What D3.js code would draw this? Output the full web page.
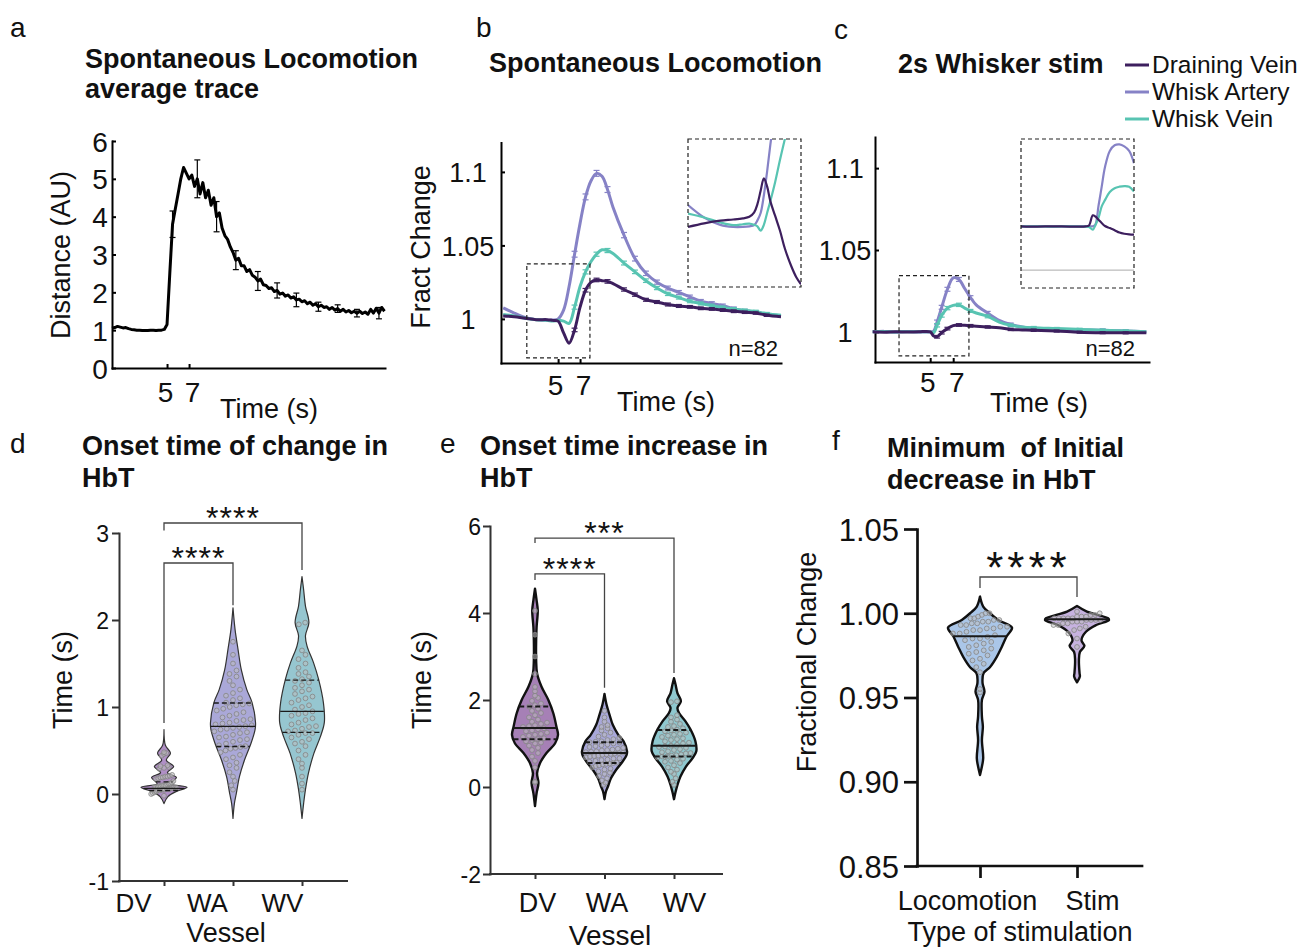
<!DOCTYPE html>
<html>
<head>
<meta charset="utf-8">
<script src="https://cdn.jsdelivr.net/npm/d3@7/dist/d3.min.js"></script>
<style>
html,body{margin:0;padding:0;background:#fff;}
svg{display:block;}
text{white-space:pre;}
</style>
</head>
<body>
<svg id="chart" width="1301" height="951"></svg>
<script>
// ================= DATA =================
// ---- Panel a: spontaneous locomotion average trace ----
const aStep = 0.25; // sampling interval (s)
const aValues = [
  1.05,1.07,1.1,1.08,1.06,1.07,1.04,1.02,1.01,1.0,1.0,0.99,0.99,0.99,1.0,1.0,0.99,1.0,1.0,1.02,
  1.15,2.5,3.8,4.2,4.6,5.0,5.3,5.15,5.0,5.1,4.8,5.0,4.6,4.9,4.5,4.7,4.3,4.5,4.0,4.1,
  3.7,3.5,3.4,3.2,3.05,2.85,2.9,2.7,2.7,2.55,2.6,2.45,2.4,2.3,2.35,2.2,2.18,2.1,2.12,2.02,
  2.05,1.95,1.98,1.9,1.93,1.85,1.88,1.8,1.82,1.75,1.78,1.7,1.74,1.66,1.7,1.62,1.66,1.6,1.62,1.55,
  1.6,1.53,1.57,1.5,1.55,1.48,1.52,1.46,1.5,1.45,1.5,1.44,1.48,1.42,1.55,1.45,1.58,1.45,1.6,1.5
];
const aErrTimes = [5.5,7.75,9.5,11.25,13.25,15.0,16.75,18.75,20.5,22.25,24.25];
const aErr = [0.35,0.5,0.4,0.25,0.25,0.2,0.18,0.12,0.1,0.1,0.15];
const aXTicks = [5,7];
const aYTicks = [0,1,2,3,4,5,6];

// ---- Panel b: spontaneous locomotion HbT ----
const bTime = [0,1,2,3,4,4.5,5,5.5,6,6.5,7,7.5,8,8.5,9,9.5,10,11,12,13,14,15,16,17,18,19,20,21,22,23,24,25.3];
const bArtery = [1.0075,1.004,1.001,0.9995,0.999,0.9992,1.0,1.006,1.022,1.044,1.065,1.083,1.094,1.099,1.097,1.088,1.076,1.057,1.041,1.031,1.025,1.021,1.018,1.015,1.012,1.0105,1.009,1.007,1.0055,1.0045,1.003,1.002];
const bVein   = [1.003,1.002,1.0005,0.9995,0.999,0.9985,0.999,0.9985,0.997,1.008,1.022,1.032,1.039,1.044,1.047,1.0465,1.0445,1.038,1.032,1.026,1.021,1.017,1.0145,1.012,1.0105,1.009,1.0078,1.0068,1.0058,1.005,1.0035,1.0025];
const bDrain  = [1.002,1.0015,1.0005,0.9995,0.9995,0.999,0.9985,0.9905,0.9835,0.9925,1.008,1.0195,1.025,1.0265,1.026,1.0255,1.024,1.02,1.0165,1.013,1.0115,1.0098,1.0088,1.0082,1.0072,1.0068,1.006,1.0052,1.0045,1.004,1.0025,1.0015];
const bErrTimes = [6.5,7.5,8.5,9.5,11,12,13,14,15,16,17,18,19,20,21,22,23,24];
const bSemArtery = [0.002,0.002,0.002,0.002,0.0018,0.0016,0.0015,0.0014,0.0013,0.0013,0.0012,0.0012,0.0012,0.0011,0.0011,0.001,0.001,0.001];
const bSemVein   = [0.0014,0.0014,0.0014,0.0014,0.0013,0.0012,0.0012,0.0011,0.0011,0.001,0.001,0.001,0.001,0.001,0.0009,0.0009,0.0009,0.0009];
const bSemDrain  = [0.0012,0.0012,0.0012,0.0012,0.0011,0.0011,0.001,0.001,0.001,0.001,0.0009,0.0009,0.0009,0.0009,0.0009,0.0008,0.0008,0.0008];
const bZoomBox = [2.15, 7.9, 0.9735, 1.0374]; // t0,t1,v0,v1
const bInsetTime   = [2,3,4,4.8,5.4,5.8,6.1,6.3,6.5,6.7,6.9,7.1,7.4,7.7,8.0,8.4,8.7,9.0];
const bInsetArtery = [1.0077,1.0035,1.001,1.0003,1.0003,1.0005,1.0009,1.0025,1.005,1.011,1.019,1.028,1.04,1.05,1.06,1.07,1.08,1.09];
const bInsetVein   = [1.0048,1.0035,1.0018,1.0009,1.0012,1.0014,1.001,1.0005,0.999,1.001,1.005,1.009,1.0155,1.023,1.03,1.04,1.05,1.06];
const bInsetDrain  = [1.0003,1.0015,1.0024,1.0028,1.0032,1.0037,1.0052,1.008,1.0125,1.0167,1.014,1.009,1.004,0.999,0.993,0.987,0.9834,0.9809];

// ---- Panel c: 2 s whisker stimulation ----
const cTime = [0,1,2,3,4,5,5.3,5.6,6,6.5,7,7.5,8,8.5,9,10,11,12,13,14,16,18,20,22,23.8];
const cArtery = [1.0,1.0003,0.9998,1.0002,0.9999,1.0,1.0005,1.006,1.015,1.026,1.033,1.032,1.0265,1.021,1.0165,1.0115,1.007,1.0045,1.003,1.002,1.0015,1.0012,1.001,1.0005,1.0];
const cVein   = [1.0,1.0002,0.9999,1.0001,1.0,1.0,0.9995,1.004,1.010,1.0145,1.0162,1.0165,1.0145,1.0128,1.0115,1.0095,1.006,1.004,1.003,1.0025,1.002,1.0015,1.001,1.0005,1.0];
const cDrain  = [1.0,0.9998,1.0,0.9999,1.0,1.0,0.9975,0.997,0.9995,1.002,1.0038,1.0042,1.004,1.0037,1.0035,1.003,1.0025,1.0015,1.0012,1.001,1.0005,0.9998,0.9995,0.9994,0.9995];
const cErrTimes = [5.6,6,6.5,7.5,8.5,10,12,14,16,18,20,22];
const cSemArtery = [0.0012,0.0012,0.0012,0.0012,0.0011,0.001,0.0009,0.0008,0.0008,0.0008,0.0008,0.0008];
const cSemVein   = [0.001,0.001,0.001,0.001,0.0009,0.0009,0.0008,0.0008,0.0007,0.0007,0.0007,0.0007];
const cSemDrain  = [0.0008,0.0008,0.0008,0.0008,0.0008,0.0007,0.0007,0.0007,0.0006,0.0006,0.0006,0.0006];
const cZoomBox = [2.29, 8.37, 0.9853, 1.0344];
const cInsetTime   = [2,3,4,5,6,6.2,6.45,6.6,6.8,7.0,7.2,7.5,7.8,8.1,8.4,8.7,9.0];
const cInsetDrain  = [1.0007,1.0006,1.0007,1.0006,1.0007,1.0009,1.0044,1.004,1.0029,1.0018,1.0008,1.0001,0.9994,0.9986,0.9982,0.998,0.9979];
const cInsetArtery = [1.0006,1.0007,1.0006,1.0007,1.0007,1.0007,1.0007,1.0012,1.0075,1.014,1.0205,1.026,1.0279,1.0282,1.0275,1.026,1.0219];
const cInsetVein   = [1.0007,1.0007,1.0006,1.0007,1.0006,1.0005,0.9996,1.001,1.0035,1.0074,1.0095,1.0122,1.0135,1.014,1.0142,1.014,1.0124];
const cInsetBase = 0.986;
const insetTimeDomain = [2, 9];
const insetValueDomain = [0.98, 1.03];

const seriesNames  = ["Draining Vein", "Whisk Artery", "Whisk Vein"];
const seriesColors = ["#3d1f5e", "#8682c6", "#58c4b2"];
const fractTicks = [1, 1.05, 1.1];

// ---- Panel d: onset time of change in HbT ----
const vesselCats = ["DV", "WA", "WV"];
const dYTicks = [-1, 0, 1, 2, 3];
const dProfileDV = [[-0.11,0],[-0.03,0.17],[0.027,0.52],[0.077,1.0],[0.12,0.3],[0.19,0.54],[0.246,0.15],[0.315,0.42],[0.39,0.1],[0.47,0.28],[0.56,0.06],[0.74,0]];
const dProfileWA = [[-0.28,0],[-0.11,0.06],[0.0,0.14],[0.2,0.28],[0.39,0.5],[0.58,0.78],[0.74,0.96],[0.82,0.98],[1.05,0.83],[1.2,0.6],[1.43,0.36],[1.66,0.22],[1.89,0.09],[2.14,0]];
const dProfileWV = [[-0.28,0],[-0.11,0.07],[0.05,0.15],[0.24,0.28],[0.47,0.52],[0.66,0.8],[0.82,0.97],[1.05,0.93],[1.32,0.72],[1.51,0.5],[1.7,0.22],[1.82,0.15],[1.97,0.3],[2.16,0.15],[2.35,0.07],[2.5,0]];
const dDotsDV = [-0.02,0.0,0.01,0.02,0.03,0.04,0.04,0.05,0.05,0.05,0.06,0.06,0.06,0.07,0.07,0.07,0.07,0.08,0.08,0.08,0.09,0.09,0.1,0.1,0.1,0.11,0.12,0.12,0.13,0.15,0.17,0.18,0.19,0.19,0.2,0.2,0.21,0.22,0.29,0.3,0.31,0.32,0.33,0.44,0.46,0.47,0.48];
const dDotsWA = [0.05,0.1,0.15,0.2,0.25,0.3,0.33,0.36,0.4,0.42,0.45,0.48,0.5,0.52,0.53,0.54,0.55,0.56,0.58,0.6,0.62,0.63,0.65,0.66,0.68,0.7,0.71,0.72,0.74,0.75,0.76,0.77,0.78,0.79,0.8,0.81,0.82,0.84,0.85,0.86,0.88,0.9,0.92,0.94,0.96,0.98,1.0,1.02,1.03,1.04,1.05,1.08,1.1,1.13,1.16,1.2,1.25,1.3,1.35,1.38,1.42,1.5,1.6,1.75];
const dDotsWV = [0.05,0.12,0.2,0.3,0.35,0.4,0.45,0.5,0.55,0.58,0.6,0.63,0.65,0.68,0.7,0.7,0.72,0.73,0.75,0.77,0.78,0.8,0.82,0.85,0.87,0.9,0.92,0.93,0.95,0.97,1.0,1.02,1.05,1.08,1.1,1.12,1.15,1.18,1.2,1.22,1.25,1.28,1.3,1.32,1.35,1.38,1.4,1.45,1.5,1.55,1.6,1.65,1.95,1.97];
const dMedian = [0.065, 0.777, 0.95];
const dQ1 = [0.04, 0.546, 0.708];
const dQ3 = [0.14, 1.046, 1.31];
const dColors = ["#b08fc6", "#aaa8d8", "#96c6d0"];
const dBrackets = [
  {from:"DV", to:"WA", y:2.655, yLeft:0.816, yRight:2.17, label:"****"},
  {from:"DV", to:"WV", y:3.115, yLeft:3.03, yRight:2.575, label:"****"}
];

// ---- Panel e: onset time increase in HbT ----
const eYTicks = [-2, 0, 2, 4, 6];
const eProfileDV = [[-0.44,0],[-0.14,0.07],[0.09,0.15],[0.32,0.09],[0.55,0.22],[0.78,0.5],[1.0,0.87],[1.2,1.0],[1.39,0.93],[1.69,0.8],[2.0,0.58],[2.31,0.28],[2.61,0.09],[2.92,0.05],[3.37,0.05],[3.68,0.07],[4.06,0.12],[4.29,0.07],[4.56,0]];
const eProfileWA = dProfileWA;
const eProfileWV = dProfileWV;
const eDotsDV = [0.1,0.12,0.45,0.6,0.7,0.78,0.85,0.9,0.95,1.0,1.02,1.05,1.08,1.1,1.12,1.15,1.18,1.2,1.22,1.25,1.28,1.3,1.33,1.35,1.38,1.4,1.42,1.45,1.48,1.5,1.55,1.6,1.65,1.7,1.75,1.8,1.85,1.88,1.92,1.98,2.05,2.1,2.2,2.3,2.6,3.0,3.5,4.05];
const eDotsWA = dDotsWA;
const eDotsWV = dDotsWV;
const eMedian = [1.356, 0.78, 0.95];
const eQ1 = [1.10, 0.55, 0.70];
const eQ3 = [1.85, 1.03, 1.31];
const eColors = ["#a680b6", "#a9a8da", "#8fc8cf"];
const eBrackets = [
  {from:"DV", to:"WA", y:4.90, yLeft:4.76, yRight:2.28, label:"****"},
  {from:"DV", to:"WV", y:5.72, yLeft:5.61, yRight:2.62, label:"***"}
];

// ---- Panel f: minimum of initial decrease ----
const stimCats = ["Locomotion", "Stim"];
const fYTicks = [0.85, 0.90, 0.95, 1.00, 1.05];
const fProfileLoco = [[0.904,0],[0.909,0.06],[0.914,0.1],[0.9248,0.06],[0.9327,0.09],[0.9387,0.06],[0.9486,0.06],[0.9535,0.14],[0.9585,0.08],[0.9644,0.11],[0.968,0.31],[0.974,0.52],[0.98,0.68],[0.9862,0.83],[0.9915,1.0],[0.996,0.57],[1.0,0.31],[1.004,0.1],[1.0099,0]];
const fProfileStim = [[0.959,0],[0.9625,0.09],[0.9644,0.08],[0.972,0.06],[0.977,0.09],[0.9806,0.23],[0.984,0.14],[0.989,0.28],[0.993,0.6],[0.996,1.0],[0.997,0.97],[1.001,0.31],[1.0043,0]];
const fDotsLoco = [0.953,0.955,0.965,0.968,0.97,0.972,0.973,0.975,0.976,0.977,0.978,0.979,0.98,0.981,0.982,0.983,0.984,0.985,0.985,0.986,0.987,0.988,0.988,0.989,0.99,0.99,0.991,0.991,0.992,0.992,0.993,0.993,0.994,0.994,0.995,0.995,0.996,0.996,0.997,0.997,0.998,0.999,1.0,1.0];
const fDotsStim = [0.98,0.985,0.988,0.99,0.991,0.992,0.993,0.993,0.994,0.994,0.995,0.995,0.995,0.996,0.996,0.996,0.996,0.997,0.997,0.997,0.997,0.997,0.998,0.998,0.998,0.999,0.999,1.0,1.001];
const fMedian = [0.9863, 0.9964];
const fColors = ["#aac6e8", "#c6b2df"];
const fBrackets = [{from:"Locomotion", to:"Stim", y:1.0215, yLeft:1.015, yRight:1.0096, label:"****"}];

// ================= DRAWING =================
const svg = d3.select("#chart");
const FONT = "'Liberation Sans', Arial, Helvetica, sans-serif";
const INK = "#111";

function addText(x, y, s, size, o = {}) {
  const t = svg.append("text").attr("x", x).attr("y", y).text(s)
    .attr("font-size", size).attr("font-family", FONT).attr("fill", o.fill || INK);
  if (o.bold) t.attr("font-weight", "bold");
  if (o.anchor) t.attr("text-anchor", o.anchor);
  if (o.ls) t.attr("letter-spacing", o.ls);
  if (o.rotate) t.attr("x", 0).attr("y", 0).attr("transform", `translate(${x},${y}) rotate(-90)`);
  return t;
}
function styleAxis(sel, color, sw, fs) {
  sel.select(".domain").attr("stroke", color).attr("stroke-width", sw).attr("stroke-linecap", "square");
  sel.selectAll(".tick line").attr("stroke", color).attr("stroke-width", sw);
  sel.selectAll(".tick text").attr("font-size", fs).attr("font-family", FONT).attr("fill", INK);
}

// ---- panel letters & titles ----
addText(10, 37, "a", 28);
addText(476, 37, "b", 28);
addText(834, 39, "c", 28);
addText(10, 453, "d", 28);
addText(440, 453, "e", 28);
addText(832, 450, "f", 28);

const TS = 27;
addText(85, 68, "Spontaneous Locomotion", TS, {bold:true});
addText(85, 98, "average trace", TS, {bold:true});
addText(489, 72, "Spontaneous Locomotion", TS, {bold:true});
addText(898, 73, "2s Whisker stim", TS, {bold:true});
addText(82, 455, "Onset time of change in", TS, {bold:true});
addText(82, 487, "HbT", TS, {bold:true});
addText(480, 455, "Onset time increase in", TS, {bold:true});
addText(480, 487, "HbT", TS, {bold:true});
addText(887, 457, "Minimum  of Initial", TS, {bold:true});
addText(887, 489, "decrease in HbT", TS, {bold:true});

// ---- Panel a ----
(function(){
  const x = d3.scaleLinear().domain([0, 24.8]).range([112, 385]);
  const y = d3.scaleLinear().domain([0, 6]).range([368, 141]);
  const gx = svg.append("g").attr("transform", "translate(0,368)")
    .call(d3.axisBottom(x).tickValues(aXTicks).tickSize(-4).tickSizeOuter(0).tickFormat(d => String(d)));
  styleAxis(gx, "#000", 2, 28);
  gx.selectAll(".tick text").attr("y", 34).attr("dy", 0).attr("dx", (d, i) => i === 0 ? -2 : 3);
  const gy = svg.append("g").attr("transform", "translate(112,0)")
    .call(d3.axisLeft(y).tickValues(aYTicks).tickSize(-4).tickSizeOuter(0).tickFormat(d => String(d)));
  styleAxis(gy, "#000", 2, 28);
  gy.selectAll(".tick text").attr("x", -12).attr("text-anchor", "middle").attr("dy", "0.36em");

  svg.append("path").datum(aValues)
    .attr("d", d3.line().x((d, i) => x(i * aStep)).y(d => y(d)))
    .attr("fill", "none").attr("stroke", "#000").attr("stroke-width", 3).attr("stroke-linejoin", "round");

  aErrTimes.forEach((t, i) => {
    const v = aValues[Math.round(t / aStep)];
    const px = x(t);
    const g = svg.append("g").attr("stroke", "#000").attr("stroke-width", 1.2);
    g.append("line").attr("x1", px).attr("x2", px).attr("y1", y(v - aErr[i])).attr("y2", y(v + aErr[i]));
    [v - aErr[i], v + aErr[i]].forEach(e => g.append("line").attr("x1", px - 3).attr("x2", px + 3).attr("y1", y(e)).attr("y2", y(e)));
  });

  addText(269, 418, "Time (s)", 27, {anchor:"middle"});
  addText(70, 255, "Distance (AU)", 27, {anchor:"middle", rotate:true});
})();

// ---- helper for panels b & c ----
function timePanel(o) {
  const x = d3.scaleLinear().domain(o.xDomain).range(o.xRange);
  const y = d3.scaleLinear().domain(o.yDomain).range(o.yRange);
  const gx = svg.append("g").attr("transform", `translate(0,${o.yRange[0]})`)
    .call(d3.axisBottom(x).tickValues(aXTicks).tickSize(-4).tickSizeOuter(0).tickFormat(d => String(d)));
  styleAxis(gx, "#000", 2, 28);
  gx.selectAll(".tick text").attr("y", o.xLabelY).attr("dy", 0).attr("dx", (d, i) => i === 0 ? -3 : 3);
  const gy = svg.append("g").attr("transform", `translate(${o.xRange[0]},0)`)
    .call(d3.axisLeft(y).tickValues(fractTicks).tickSize(-4).tickSizeOuter(0).tickFormat(d => String(+d.toFixed(2))));
  styleAxis(gy, "#000", 2, 27);
  gy.selectAll(".tick text").attr("x", o.yLabelDX).attr("text-anchor", "middle").attr("dy", "0.36em");

  const line = d3.line().curve(d3.curveCatmullRom.alpha(0.5)).x((d, i) => x(o.time[i])).y(d => y(d));
  o.series.forEach(s => {
    svg.append("path").datum(s.vals).attr("d", line)
      .attr("fill", "none").attr("stroke", s.color).attr("stroke-width", 3).attr("stroke-linejoin", "round");
    o.errTimes.forEach((t, i) => {
      const idx = o.time.indexOf(t);
      if (idx < 0) return;
      const v = s.vals[idx], e = s.sem[i], px = x(t);
      const g = svg.append("g").attr("stroke", s.color).attr("stroke-width", 1.2);
      g.append("line").attr("x1", px).attr("x2", px).attr("y1", y(v - e)).attr("y2", y(v + e));
      g.append("line").attr("x1", px - 3).attr("x2", px + 3).attr("y1", y(v + e)).attr("y2", y(v + e));
      g.append("line").attr("x1", px - 3).attr("x2", px + 3).attr("y1", y(v - e)).attr("y2", y(v - e));
    });
  });
  // zoom box
  const b = o.box;
  svg.append("rect").attr("x", x(b[0])).attr("y", y(b[3])).attr("width", x(b[1]) - x(b[0])).attr("height", y(b[2]) - y(b[3]))
    .attr("fill", "none").attr("stroke", "#222").attr("stroke-width", 1.2).attr("stroke-dasharray", "4,3");
  // inset
  const r = o.inset;
  const xi = d3.scaleLinear().domain(insetTimeDomain).range([r.x0, r.x1]);
  const yi = d3.scaleLinear().domain(insetValueDomain).range([r.y1, r.y0]);
  const clipId = "clip" + o.id;
  svg.append("clipPath").attr("id", clipId).append("rect").attr("x", r.x0).attr("y", r.y0).attr("width", r.x1 - r.x0).attr("height", r.y1 - r.y0);
  const gi = svg.append("g").attr("clip-path", `url(#${clipId})`);
  if (o.insetBase !== undefined) {
    gi.append("line").attr("x1", r.x0).attr("x2", r.x1).attr("y1", yi(o.insetBase)).attr("y2", yi(o.insetBase)).attr("stroke", "#aaa").attr("stroke-width", 1);
  }
  const li = d3.line().curve(d3.curveCatmullRom.alpha(0.5)).x((d, i) => xi(o.insetTime[i])).y(d => yi(d));
  o.insetSeries.forEach(s => {
    gi.append("path").datum(s.vals).attr("d", li).attr("fill", "none").attr("stroke", s.color).attr("stroke-width", 2.2).attr("stroke-linejoin", "round");
  });
  svg.append("rect").attr("x", r.x0).attr("y", r.y0).attr("width", r.x1 - r.x0).attr("height", r.y1 - r.y0)
    .attr("fill", "none").attr("stroke", "#222").attr("stroke-width", 1.2).attr("stroke-dasharray", "4,3");
  addText(o.nX, o.nY, "n=82", 22, {anchor:"end"});
  addText(o.tX, o.tY, "Time (s)", 27, {anchor:"middle"});
}

timePanel({
  id: "b", xDomain: [-0.2, 25.3], xRange: [501, 781], yDomain: [0.97, 1.12], yRange: [363, 142.5],
  xLabelY: 32, yLabelDX: -33, time: bTime, errTimes: bErrTimes,
  series: [
    {vals: bArtery, color: seriesColors[1], sem: bSemArtery},
    {vals: bVein, color: seriesColors[2], sem: bSemVein},
    {vals: bDrain, color: seriesColors[0], sem: bSemDrain}
  ],
  box: bZoomBox,
  inset: {x0: 688, x1: 801, y0: 139, y1: 287},
  insetTime: bInsetTime,
  insetSeries: [
    {vals: bInsetArtery, color: seriesColors[1]},
    {vals: bInsetVein, color: seriesColors[2]},
    {vals: bInsetDrain, color: seriesColors[0]}
  ],
  nX: 778, nY: 356, tX: 666, tY: 411
});
addText(430, 247, "Fract Change", 27, {anchor:"middle", rotate:true});

timePanel({
  id: "c", xDomain: [0.2, 24.03], xRange: [875, 1149], yDomain: [0.9816, 1.119], yRange: [362, 137],
  xLabelY: 30, yLabelDX: -30, time: cTime, errTimes: cErrTimes,
  series: [
    {vals: cArtery, color: seriesColors[1], sem: cSemArtery},
    {vals: cVein, color: seriesColors[2], sem: cSemVein},
    {vals: cDrain, color: seriesColors[0], sem: cSemDrain}
  ],
  box: cZoomBox,
  inset: {x0: 1021, x1: 1134, y0: 139, y1: 288},
  insetTime: cInsetTime, insetBase: cInsetBase,
  insetSeries: [
    {vals: cInsetArtery, color: seriesColors[1]},
    {vals: cInsetVein, color: seriesColors[2]},
    {vals: cInsetDrain, color: seriesColors[0]}
  ],
  nX: 1135, nY: 356, tX: 1039, tY: 412
});

// legend
seriesNames.forEach((n, i) => {
  const yy = 65 + i * 27;
  svg.append("line").attr("x1", 1125).attr("x2", 1149).attr("y1", yy).attr("y2", yy).attr("stroke", seriesColors[i]).attr("stroke-width", 3);
  addText(1152, yy + 8, n, 24.5);
});

// ---- violin panels ----
function hwAt(prof, v) {
  if (v <= prof[0][0] || v >= prof[prof.length - 1][0]) return 0;
  for (let k = 0; k < prof.length - 1; k++) {
    const a = prof[k], b = prof[k + 1];
    if (v >= a[0] && v <= b[0]) return a[1] + (b[1] - a[1]) * (v - a[0]) / (b[0] - a[0]);
  }
  return 0;
}

function violinPanel(o) {
  const y = d3.scaleLinear().domain(o.yDomain).range([o.yBottom, o.yTop]);
  const x = d3.scalePoint().domain(o.cats).range(o.catRange);
  const g = svg.append("g");

  o.cats.forEach((c, i) => {
    const prof = o.profiles[i], cx = x(c);
    const area = d3.area().curve(d3.curveCatmullRom.alpha(0.5))
      .y(d => y(d[0])).x0(d => cx - o.w * d[1]).x1(d => cx + o.w * d[1]);
    g.append("path").attr("d", area(prof)).attr("fill", o.colors[i]).attr("stroke", o.outline).attr("stroke-width", o.osw).attr("stroke-linejoin", "round");

    // dots: deterministic row layout spread across the violin width
    const rows = d3.groups(o.dots[i], v => Math.round(y(v) / o.rowH));
    rows.forEach(([k, vs]) => {
      const n = vs.length;
      const hw = Math.max(o.w * hwAt(prof, d3.mean(vs)) - 3.5, 0);
      const sp = n > 1 ? Math.min(o.dotSp, 2 * hw / (n - 1)) : 0;
      vs.forEach((v, j) => {
        g.append("circle").attr("cx", cx + (j - (n - 1) / 2) * sp).attr("cy", y(v)).attr("r", 2.4)
          .attr("fill", "rgba(190,190,190,0.5)").attr("stroke", "#858585").attr("stroke-width", 0.8);
      });
    });

    const qline = (v, dash) => {
      const hw = o.w * hwAt(prof, v);
      g.append("line").attr("x1", cx - hw).attr("x2", cx + hw).attr("y1", y(v)).attr("y2", y(v))
        .attr("stroke", "#1a1a1a").attr("stroke-width", o.qsw).attr("stroke-dasharray", dash ? "5,3" : null);
    };
    if (o.q1) { qline(o.q1[i], true); qline(o.q3[i], true); }
    qline(o.median[i], false);
  });

  const gy = svg.append("g").attr("transform", `translate(${o.axisX},0)`)
    .call(d3.axisLeft(y).tickValues(o.yTicks).tickSize(o.tick).tickPadding(o.tickPad).tickSizeOuter(0).tickFormat(o.fmt));
  styleAxis(gy, o.axisColor, o.asw, o.yfs);
  gy.selectAll(".tick text").attr("dy", "0.36em");
  svg.append("line").attr("x1", o.axisX).attr("x2", o.axisEnd).attr("y1", o.yBottom).attr("y2", o.yBottom)
    .attr("stroke", o.axisColor).attr("stroke-width", o.asw).attr("stroke-linecap", "square");
  const gx = svg.append("g").attr("transform", `translate(0,${o.yBottom})`)
    .call(d3.axisBottom(x).tickSize(o.xtick).tickSizeOuter(0));
  gx.select(".domain").remove();
  styleAxis(gx, o.axisColor, o.asw, o.xfs);
  gx.selectAll(".tick text").attr("y", o.xLabelY).attr("dy", 0).attr("dx", (d, i) => o.labelDX[i]);

  o.brackets.forEach(b => {
    const x1 = x(b.from), x2 = x(b.to), yy = y(b.y);
    svg.append("path").attr("d", `M${x1},${y(b.yLeft)}V${yy}H${x2}V${y(b.yRight)}`)
      .attr("fill", "none").attr("stroke", "#444").attr("stroke-width", 1.3);
    addText((x1 + x2) / 2, yy + 6, b.label, o.starSize, {anchor:"middle", ls: o.starLS});
  });
}

violinPanel({
  cats: vesselCats, yDomain: [-1, 3], yBottom: 881, yTop: 533, catRange: [164, 302],
  profiles: [dProfileDV, dProfileWA, dProfileWV], dots: [dDotsDV, dDotsWA, dDotsWV],
  median: dMedian, q1: dQ1, q3: dQ3, colors: dColors, w: 23, outline: "#333", osw: 1.2, qsw: 1.3,
  rowH: 7, dotSp: 7,
  axisX: 119, axisEnd: 347, yTicks: dYTicks, tick: 7, tickPad: 3, fmt: d => String(d), axisColor: "#333", asw: 2,
  yfs: 23, xtick: 5, xfs: 26, xLabelY: 31, labelDX: [-31, -26, -20],
  brackets: dBrackets, starSize: 32, starLS: 1
});
addText(72, 680, "Time (s)", 27, {anchor:"middle", rotate:true});
addText(226, 942, "Vessel", 27, {anchor:"middle"});

violinPanel({
  cats: vesselCats, yDomain: [-2, 6], yBottom: 874, yTop: 526, catRange: [535, 674],
  profiles: [eProfileDV, eProfileWA, eProfileWV], dots: [eDotsDV, eDotsWA, eDotsWV],
  median: eMedian, q1: eQ1, q3: eQ3, colors: eColors, w: 23, outline: "#111", osw: 2.4, qsw: 2,
  rowH: 5, dotSp: 6,
  axisX: 490, axisEnd: 722, yTicks: eYTicks, tick: 7, tickPad: 2, fmt: d => String(d), axisColor: "#333", asw: 2,
  yfs: 23, xtick: 5, xfs: 27, xLabelY: 38, labelDX: [2, 2, 10],
  brackets: eBrackets, starSize: 32, starLS: 1
});
addText(431, 680, "Time (s)", 27, {anchor:"middle", rotate:true});
addText(610, 945, "Vessel", 28, {anchor:"middle"});

violinPanel({
  cats: stimCats, yDomain: [0.85, 1.05], yBottom: 866, yTop: 529, catRange: [980, 1077],
  profiles: [fProfileLoco, fProfileStim], dots: [fDotsLoco, fDotsStim],
  median: fMedian, colors: fColors, w: 32, outline: "#111", osw: 2.4, qsw: 2,
  rowH: 7, dotSp: 7.5,
  axisX: 917, axisEnd: 1142, yTicks: fYTicks, tick: 13, tickPad: 5, fmt: d3.format(".2f"), axisColor: "#111", asw: 2.7,
  yfs: 31, xtick: 12, xfs: 27, xLabelY: 44, labelDX: [-13, 15],
  brackets: fBrackets, starSize: 44, starLS: 4
});
addText(816, 662, "Fractional Change", 27, {anchor:"middle", rotate:true});
addText(1020, 941, "Type of stimulation", 27, {anchor:"middle"});
</script>
</body>
</html>
